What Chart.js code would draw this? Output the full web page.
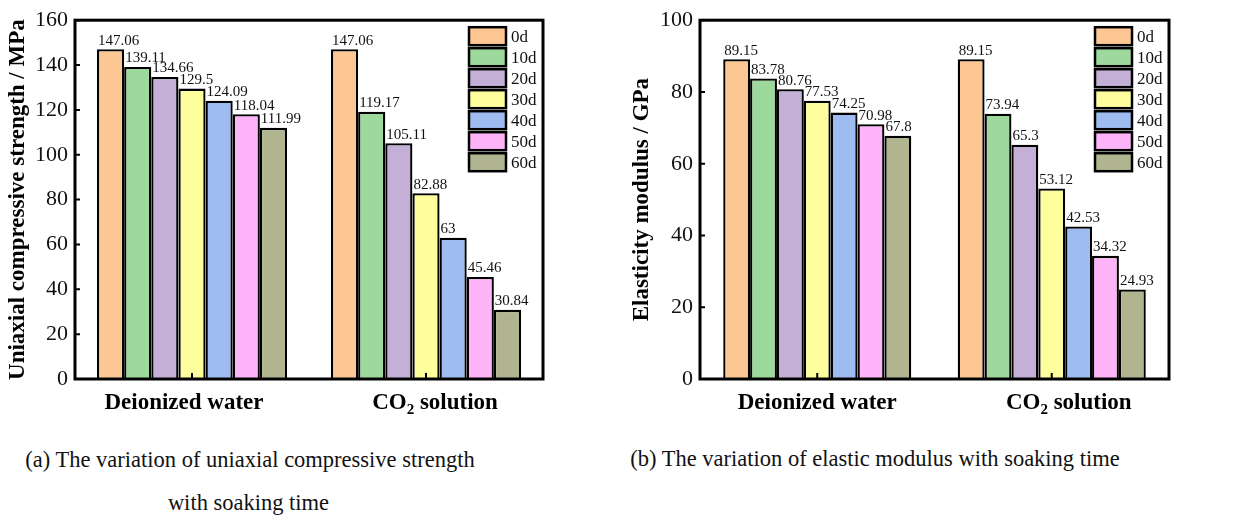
<!DOCTYPE html>
<html>
<head>
<meta charset="utf-8">
<script src="https://cdn.jsdelivr.net/npm/chart.js@4.4.0/dist/chart.umd.min.js"></script>
<style>
  html, body { margin: 0; padding: 0; background: #fff; }
  #wrap { position: relative; width: 1237px; height: 519px; overflow: hidden; background: #fff; }
  .panel { position: absolute; top: 0; }
  .cap { position: absolute; font-family: "Liberation Serif", "Times New Roman", serif; font-size: 22.5px; color: #111; text-align: center; white-space: nowrap; }
</style>
</head>
<body>
<div id="wrap">
  <div class="panel" style="left:0"><canvas id="ucsChart" width="560" height="430"></canvas></div>
  <div class="panel" style="left:620px"><canvas id="emChart" width="570" height="430"></canvas></div>
  <div class="cap" style="left:0;width:500px;top:447px">(a) The variation of uniaxial compressive strength</div>
  <div class="cap" style="left:0;width:497px;top:490px">with soaking time</div>
  <div class="cap" style="left:625px;width:500px;top:446px">(b) The variation of elastic modulus with soaking time</div>
</div>
<script>
  "use strict";
  var SERIF = '"Liberation Serif", "Times New Roman", serif';

  // groups on the x axis, soaking times as series
  var groups = ["Deionized water", "CO₂ solution"];
  var soakDays = ["0d", "10d", "20d", "30d", "40d", "50d", "60d"];
  var soakColors = ["#fcc793", "#9dd99c", "#c4b0d7", "#fefe9d", "#9ebcf0", "#feb4f8", "#b1b58f"];

  // uniaxial compressive strength, MPa
  var ucsDeionized = [147.06, 139.11, 134.66, 129.5, 124.09, 118.04, 111.99];
  var ucsCO2 = [147.06, 119.17, 105.11, 82.88, 63, 45.46, 30.84];
  var ucsTicks = { min: 0, max: 160, step: 20 };

  // elasticity modulus, GPa
  var emDeionized = [89.15, 83.78, 80.76, 77.53, 74.25, 70.98, 67.8];
  var emCO2 = [89.15, 73.94, 65.3, 53.12, 42.53, 34.32, 24.93];
  var emTicks = { min: 0, max: 100, step: 20 };

  Chart.defaults.font.family = SERIF;
  Chart.defaults.color = "#111";

  /* frame, inward ticks, value labels, group labels and legend */
  var paperMarks = {
    id: "paperMarks",
    afterDatasetsDraw: function (chart, args, opts) {
      var ctx = chart.ctx, a = chart.chartArea, sx = chart.scales.x, sy = chart.scales.y;
      var shift = opts.labelShift || [];
      ctx.save();

      // value above each bar, left aligned on the bar
      ctx.font = "15px " + SERIF;
      ctx.fillStyle = "#111";
      ctx.textAlign = "left";
      ctx.textBaseline = "bottom";
      chart.data.datasets.forEach(function (ds, di) {
        chart.getDatasetMeta(di).data.forEach(function (bar, i) {
          ctx.fillText(String(ds.data[i]), bar.x - bar.width / 2 + 1, bar.y - 1);
        });
      });

      // box frame
      ctx.strokeStyle = "#000";
      ctx.lineWidth = 3;
      ctx.strokeRect(a.left, a.top, a.right - a.left, a.bottom - a.top);

      // inward tick marks
      ctx.lineWidth = 2;
      ctx.beginPath();
      sy.ticks.forEach(function (t, i) {
        var y = sy.getPixelForTick(i);
        ctx.moveTo(a.left, y); ctx.lineTo(a.left + 5, y);
      });
      sx.ticks.forEach(function (t, i) {
        var x = sx.getPixelForTick(i);
        ctx.moveTo(x, a.bottom); ctx.lineTo(x, a.bottom - 6);
      });
      ctx.stroke();

      // group labels, "₂" drawn as a real subscript
      var big = "bold 23px " + SERIF, small = "bold 15px " + SERIF;
      ctx.textBaseline = "alphabetic";
      ctx.fillStyle = "#000";
      chart.data.labels.forEach(function (lab, i) {
        var pieces = [];
        lab.split("₂").forEach(function (p, k) {
          if (k > 0) pieces.push({ t: "2", f: small, dy: 5 });
          if (p) pieces.push({ t: p, f: big, dy: 0 });
        });
        var w = 0;
        pieces.forEach(function (pc) { ctx.font = pc.f; pc.w = ctx.measureText(pc.t).width; w += pc.w; });
        var x = sx.getPixelForTick(i) + (shift[i] || 0) - w / 2, y = a.bottom + 30;
        pieces.forEach(function (pc) { ctx.font = pc.f; ctx.fillText(pc.t, x, y + pc.dy); x += pc.w; });
      });

      // legend, stacked boxes in the top-right corner
      var lx = a.right - 74, ly = a.top + 7;
      ctx.font = "17px " + SERIF;
      ctx.textBaseline = "middle";
      ctx.lineWidth = 2.5;
      chart.data.datasets.forEach(function (ds, di) {
        var y = ly + di * 21;
        ctx.fillStyle = ds.backgroundColor;
        ctx.fillRect(lx, y, 37, 18);
        ctx.strokeRect(lx, y, 37, 18);
        ctx.fillStyle = "#111";
        ctx.fillText(ds.label, lx + 42, y + 10);
      });

      ctx.restore();
    }
  };

  function build(canvasId, first, second, ticks, title, axisW, titlePad, catPct, padRight, labelShift) {
    var datasets = soakDays.map(function (d, i) {
      return {
        label: d,
        data: [first[i], second[i]],
        backgroundColor: soakColors[i],
        borderColor: "#000",
        borderWidth: 2.3,
        categoryPercentage: catPct,
        barPercentage: 1
      };
    });
    return new Chart(document.getElementById(canvasId), {
      type: "bar",
      data: { labels: groups, datasets: datasets },
      plugins: [paperMarks],
      options: {
        responsive: false,
        animation: false,
        layout: { padding: { top: 17, right: padRight, left: 0, bottom: 0 } },
        plugins: {
          legend: { display: false },
          tooltip: { enabled: false },
          paperMarks: { labelShift: labelShift }
        },
        scales: {
          x: {
            grid: { display: false, drawTicks: false, offset: false },
            border: { display: false },
            ticks: { display: false },
            afterFit: function (s) { s.height = 51; }
          },
          y: {
            min: ticks.min, max: ticks.max,
            grid: { display: false, drawTicks: false },
            border: { display: false },
            ticks: { stepSize: ticks.step, padding: 7, font: { size: 22 }, color: "#111" },
            title: { display: true, text: title, color: "#000", font: { size: 23, weight: "bold" }, padding: { top: titlePad, bottom: 0 } },
            afterFit: function (s) { s.width = axisW; }
          }
        }
      }
    });
  }

  build("ucsChart", ucsDeionized, ucsCO2, ucsTicks, "Uniaxial compressive strength / MPa", 75, 4, 0.812, 17, [-8, 9]);
  build("emChart", emDeionized, emCO2, emTicks, "Elasticity modulus / GPa", 80, 8, 0.802, 21, [0, 17]);
</script>
</body>
</html>
